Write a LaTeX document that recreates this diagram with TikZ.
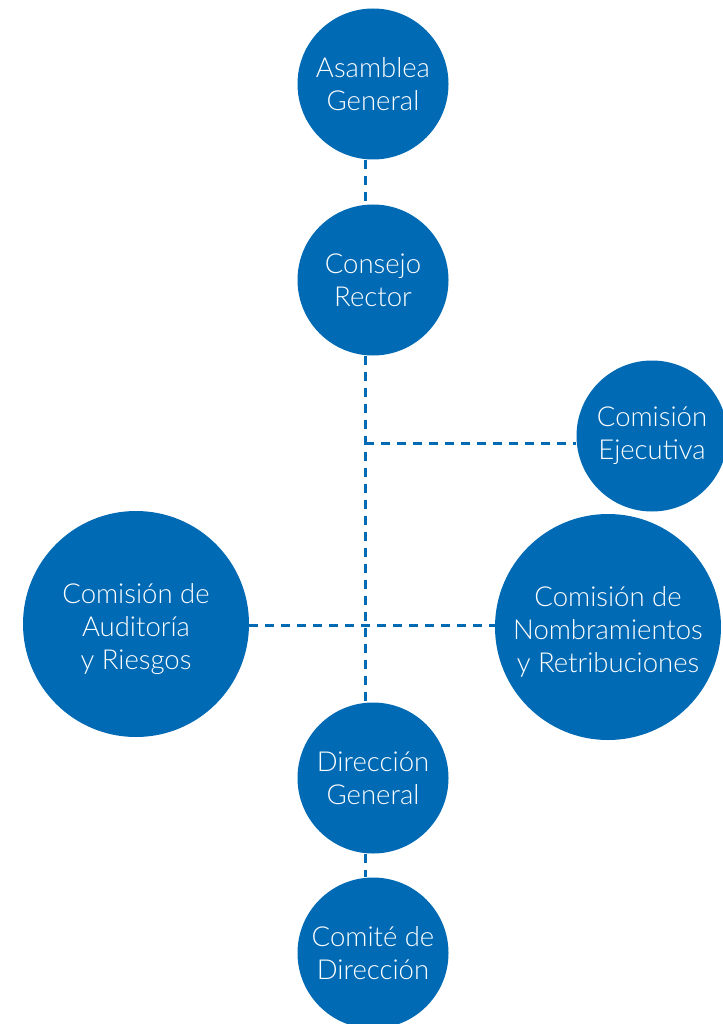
\documentclass[tikz,border=0pt]{standalone}
\usepackage{fontspec}
\IfFontExistsTF{Lato Light}{\setmainfont{Lato Light}}{\setmainfont{Lato}}
\usepackage{tikz}
\usetikzlibrary{positioning}
\definecolor{orgblue}{RGB}{0,106,180}

\begin{document}
\begin{tikzpicture}[x=1pt,y=-1pt,
    organo/.style={circle,fill=orgblue,text=white,inner sep=0pt,align=center,
      font=\fontsize{27.5}{33}\selectfont},
    small/.style={organo,minimum size=151pt},
    big/.style={organo,minimum size=226pt,text height=96pt},
    link/.style={draw=orgblue,line width=3pt,dash pattern=on 9pt off 7pt}]
    \useasboundingbox (0,0) rectangle (722,1024);
    \node[small] (asamblea) at (373,84) {Asamblea\\General};
    \node[small] (consejo) at (373,280) {Consejo\\Rector};
    \node[small] (ejecutiva) at (652,436) {Comisión\\Ejecutiva};
    \node[big] (auditoria) at (136,624) {Comisión de\\Auditoría\\y Riesgos};
    \node[big] (nombram) at (608,627) {Comisión de\\Nombramientos\\y Retribuciones};
    \node[small] (direccion) at (373,778) {Dirección\\General};
    \node[small] (comite) at (373,953) {Comité de\\Dirección};
    \coordinate (spine) at (365,443);
    \coordinate (cross) at (365,625);
    % dashed links
    \draw[link] (asamblea.south -| spine) -- (consejo.north -| spine);
    \draw[link] (consejo.south -| spine) -- (direccion.north -| spine);
    \draw[link] (spine) -- (spine -| ejecutiva.west);
    \draw[link] (cross -| auditoria.east) -- (cross -| nombram.west);
    \draw[link] (direccion.south -| spine) -- (comite.north -| spine);
\end{tikzpicture}
\end{document}
